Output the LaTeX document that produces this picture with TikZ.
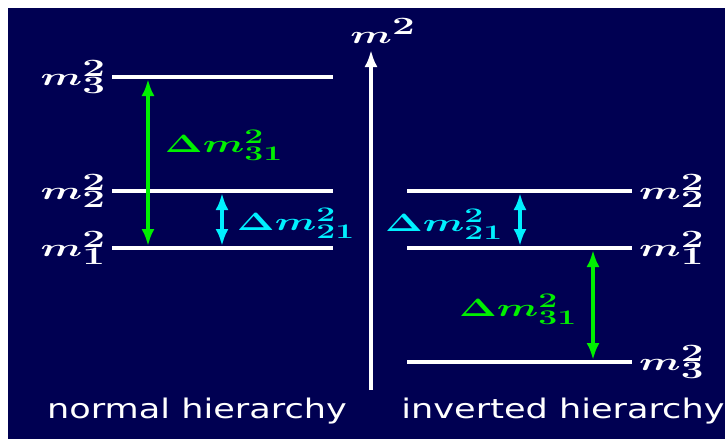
\documentclass[tikz,border=0pt]{standalone}
\usepackage{fontspec}
\usepackage{graphicx}
\usetikzlibrary{arrows.meta}
\newfontfamily\capfont{DejaVu Sans}
\definecolor{navy}{RGB}{0,0,82}
\definecolor{brgreen}{RGB}{0,240,0}
\definecolor{brcyan}{RGB}{0,240,255}
\DeclareMathSizes{34}{34}{26}{19}
\DeclareMathSizes{28}{28}{21}{16}
\newcommand{\wide}[1]{\scalebox{1.62}[1]{#1}}

\begin{document}
\begin{tikzpicture}[x=1pt, y=-1pt, >={Latex[length=17pt,width=13pt]}]
    % スタイル定義
    \tikzstyle{level} = [draw=white, line width=3.5pt]
    \tikzstyle{mass} = [text=white, inner sep=0pt, font=\fontsize{34}{38}\selectfont\boldmath]
    \tikzstyle{gap} = [inner sep=0pt, font=\fontsize{28}{32}\selectfont\boldmath]
    \tikzstyle{split} = [line width=3.5pt, <->]
    \tikzstyle{caption} = [text=white, inner sep=0pt, font=\capfont\fontsize{27}{30}\selectfont]

    % 背景
    \useasboundingbox (0,0) rectangle (725,439);
    \fill [navy] (8,8) rectangle (725,439);

    % 準位
    \coordinate (nh3a) at (112,77);  \coordinate (nh3b) at (333,77);
    \coordinate (nh2a) at (112,191); \coordinate (nh2b) at (333,191);
    \coordinate (nh1a) at (112,248); \coordinate (nh1b) at (333,248);
    \coordinate (ih2a) at (407,191); \coordinate (ih2b) at (632,191);
    \coordinate (ih1a) at (407,248); \coordinate (ih1b) at (632,248);
    \coordinate (ih3a) at (407,362); \coordinate (ih3b) at (632,362);
    \path [level] (nh3a) -- (nh3b);
    \path [level] (nh2a) -- (nh2b);
    \path [level] (nh1a) -- (nh1b);
    \path [level] (ih2a) -- (ih2b);
    \path [level] (ih1a) -- (ih1b);
    \path [level] (ih3a) -- (ih3b);

    % ラベル
    \node [mass, anchor=east] (lm3) at ([xshift=-6pt]nh3a) {\wide{$m_3^2$}};
    \node [mass, anchor=east] (lm2) at ([xshift=-6pt]nh2a) {\wide{$m_2^2$}};
    \node [mass, anchor=east] (lm1) at ([xshift=-6pt]nh1a) {\wide{$m_1^2$}};
    \node [mass, anchor=west] (rm2) at ([xshift=7pt]ih2b) {\wide{$m_2^2$}};
    \node [mass, anchor=west] (rm1) at ([xshift=7pt]ih1b) {\wide{$m_1^2$}};
    \node [mass, anchor=west] (rm3) at ([xshift=7pt]ih3b) {\wide{$m_3^2$}};
    \node [gap, text=brgreen] (nd31) at (224,145) {\wide{$\Delta m_{31}^2$}};
    \node [gap, text=brcyan] (nd21) at (296,223) {\wide{$\Delta m_{21}^2$}};
    \node [gap, text=brcyan] (id21) at (444,224) {\wide{$\Delta m_{21}^2$}};
    \node [gap, text=brgreen] (id31) at (518,309) {\wide{$\Delta m_{31}^2$}};

    % 軸
    \coordinate (ax0) at (371,390);
    \coordinate (ax1) at (371,50);
    \path [draw=white, line width=3.5pt, ->] (ax0) -- (ax1);
    \node [mass, anchor=south] (msq) at ([xshift=12pt,yshift=6pt]ax1) {\wide{$m^2$}};

    % 矢印
    \coordinate (ng3) at (148,79);  \coordinate (ng1) at (148,246);
    \coordinate (nc2) at (222,193); \coordinate (nc1) at (222,246);
    \coordinate (ic2) at (520,193); \coordinate (ic1) at (520,246);
    \coordinate (ig1) at (593,250); \coordinate (ig3) at (593,360);
    \path [split, draw=brgreen] (ng3) -- (ng1);
    \path [split, draw=brcyan] (nc2) -- (nc1);
    \path [split, draw=brcyan] (ic2) -- (ic1);
    \path [split, draw=brgreen] (ig1) -- (ig3);

    % 見出し
    \node [caption] (nlabel) at (197,411) {\scalebox{1.3}[1]{normal hierarchy}};
    \node [caption] (ilabel) at (563,411) {\scalebox{1.3}[1]{inverted hierarchy}};
\end{tikzpicture}
\end{document}
